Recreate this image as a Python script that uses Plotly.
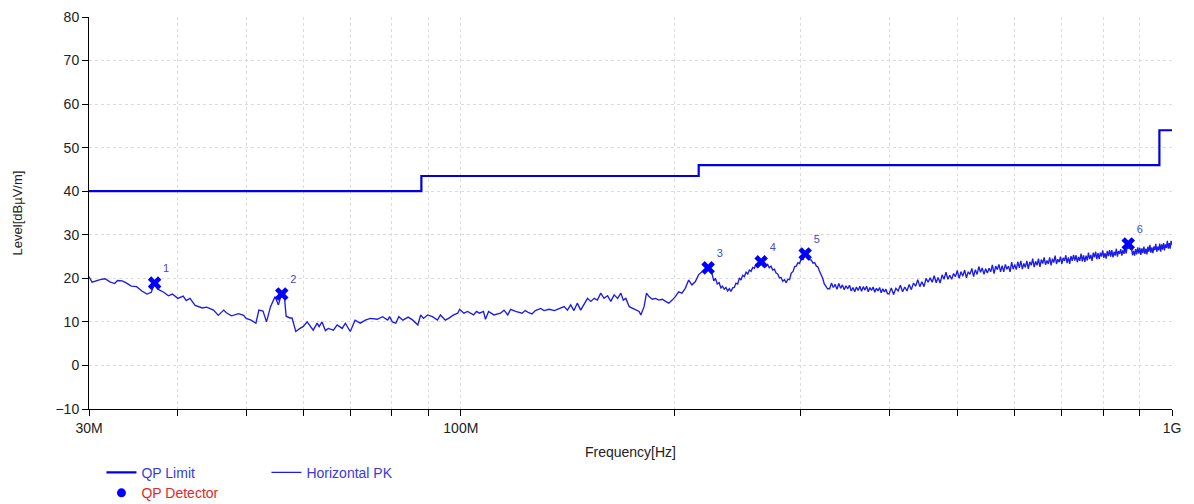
import math
import plotly.graph_objects as go

# ---------------- data ----------------
# Horizontal PK sweep (MHz, dBuV/m), in segments
seg_a_freq = [30.0, 30.3, 31.1, 31.6, 32.1, 32.6, 32.9, 33.4, 33.8, 34.4, 35.0, 35.6, 36.2, 36.7,
              37.1, 37.5, 38.2, 38.8, 39.3, 40.0, 40.7, 41.1, 41.6, 42.3, 43.3, 43.9, 44.9, 45.6,
              46.4, 46.8, 47.6, 48.7, 49.5, 49.9, 50.7, 51.5, 52.0, 52.7, 53.3, 54.0, 54.8, 55.4,
              56.0, 56.4, 56.8, 57.5, 57.9, 58.6, 59.4]
seg_a_level = [20.4, 19.1, 19.7, 19.9, 19.2, 18.8, 19.5, 19.4, 19.0, 18.2, 18.1, 17.1, 16.4, 16.8,
               18.9, 17.5, 16.8, 16.0, 16.4, 15.4, 15.9, 14.9, 15.4, 13.8, 13.2, 13.4, 12.7, 11.5,
               12.7, 12.1, 11.4, 11.9, 11.5, 10.8, 10.4, 9.7, 12.7, 12.5, 10.0, 13.5, 15.8, 13.9,
               16.6, 16.8, 11.3, 10.9, 10.9, 7.8, 8.5]

seg_b_freq = [60.0, 60.8, 61.4, 62.0, 62.8, 63.2, 63.8, 64.5, 65.1, 66.2, 67.0, 68.1, 68.8, 69.9,
              71.0, 72.2, 73.4, 74.6, 76.3, 77.6, 78.9, 79.4, 80.1, 81.0, 81.8, 82.9, 84.3, 85.6,
              87.0, 87.8, 88.6, 89.8, 91.2, 92.7, 93.6, 95.1, 96.1, 97.7, 99.0, 99.6, 101.0, 102.2,
              104.2, 105.2, 106.2, 107.6, 108.3, 109.4, 111.3, 113.7, 115.0, 116.4, 117.5, 119.4]
seg_b_level = [8.9, 10.0, 8.9, 8.1, 9.7, 8.9, 10.0, 8.0, 8.5, 8.1, 9.3, 8.5, 9.7, 7.8,
               10.4, 9.7, 10.4, 10.8, 10.6, 11.2, 10.4, 11.2, 10.0, 9.7, 11.2, 10.4, 11.1, 10.4,
               9.3, 11.6, 10.8, 11.6, 11.2, 10.4, 11.6, 10.4, 10.8, 11.6, 12.0, 12.9, 12.0, 12.4,
               11.6, 12.4, 12.0, 12.4, 10.6, 12.4, 11.6, 12.0, 12.7, 11.6, 12.9, 12.4]

seg_c_freq = [121.9, 123.2, 124.6, 125.9, 127.3, 129.5, 130.9, 133.1, 135.4, 137.7, 139.7, 141.2,
              142.7, 144.2, 145.8, 147.4, 149.0, 150.7, 152.3, 154.0, 155.6, 157.3, 159.0, 160.8,
              162.5, 164.3, 166.1, 167.9, 169.2, 170.6, 172.5, 174.4, 176.2, 178.1, 179.1, 181.0,
              182.4, 183.9, 185.9, 187.9, 189.9, 192.0, 194.0, 196.1, 198.2, 200.3, 202.4, 204.6,
              206.8, 209.1, 211.3, 213.6, 215.9, 218.3, 220.7, 222.7]
seg_c_level = [12.0, 12.6, 12.1, 11.8, 12.6, 13.1, 12.6, 12.9, 12.6, 13.1, 13.5, 12.7,
               13.9, 12.6, 14.3, 12.7, 13.9, 15.4, 14.7, 15.4, 15.0, 16.6, 15.4, 16.0,
               14.7, 16.2, 15.4, 16.6, 15.0, 15.4, 13.5, 13.1, 12.7, 12.4, 11.6, 13.5,
               16.6, 15.8, 15.2, 15.4, 15.0, 15.2, 14.7, 14.3, 15.0, 15.8, 16.9, 16.6,
               17.7, 19.6, 18.5, 19.2, 20.8, 21.5, 21.9, 22.4]

seg_d_freq = [225.6, 226.8, 228.0, 229.4, 230.8, 232.1, 233.3, 234.6, 235.9, 237.2, 238.5, 239.8,
              241.1, 242.4, 243.7, 245.1, 246.4, 247.7, 249.0, 250.4, 251.8, 253.2, 254.5, 255.9,
              257.3, 258.7, 260.1, 261.5, 263.0, 264.4, 266.0, 267.3, 268.6, 270.0, 271.5, 273.0,
              274.5, 276.0, 277.5, 279.0, 280.5, 282.0, 283.6, 285.1, 286.7, 288.3, 289.9, 291.5,
              293.2, 294.7, 296.3, 297.8, 299.4, 301.1, 302.9, 304.9, 306.6, 308.0, 309.4, 311.0,
              312.7, 314.4, 316.2, 317.8, 319.4, 321.0, 322.7, 324.4, 326.1, 327.9]
seg_d_level = [21.0, 19.4, 20.0, 18.7, 19.0, 17.8, 18.2, 17.5, 17.9, 17.1, 17.6, 17.0,
               17.8, 17.9, 18.9, 18.7, 20.1, 19.6, 20.7, 20.4, 21.4, 21.0, 21.9, 21.6,
               22.5, 22.3, 23.3, 22.8, 23.6, 23.9, 23.2, 23.5, 22.8, 23.2, 22.4, 22.8,
               21.9, 22.1, 21.2, 21.0, 20.1, 20.2, 19.3, 19.7, 19.0, 19.8, 19.7, 21.2,
               21.6, 22.7, 22.8, 23.6, 23.4, 24.5, 24.3, 25.5, 24.9, 25.1, 24.3, 24.2,
               23.5, 23.6, 22.8, 22.6, 21.6, 20.9, 20.0, 18.7, 18.2, 17.6]

seg_e_freq = [330, 332, 334, 336, 338, 340, 342, 344, 346, 348, 350, 352, 354, 356, 358, 360, 362,
              364, 366, 368, 370, 372, 374, 376, 378, 380, 382, 384, 386, 388, 390, 392, 394, 396, 398]
seg_e_level = [17.6, 18.9, 17.9, 18.6, 17.5, 18.8, 17.7, 18.5, 17.4, 18.3, 17.6, 18.4, 17.1, 17.9,
               16.9, 18.0, 17.2, 18.2, 17.0, 18.1, 17.3, 18.2, 16.9, 17.9, 17.2, 18.0, 16.8, 17.7,
               17.1, 17.9, 16.7, 17.6, 16.9, 17.5, 16.5]

seg_f_freq = [400, 403, 406, 409, 412, 415, 418, 421, 424, 427,
              430, 433, 436, 439, 442, 445, 448, 451, 454, 457,
              460, 463, 466, 469, 472, 475, 478, 481, 484, 487,
              490, 493, 496, 499, 502, 505, 508, 511, 514, 517,
              520, 523, 526, 529, 532, 535, 538, 541, 544, 547,
              550, 553, 556, 559, 562, 565, 568, 571, 574, 577,
              580, 583, 586, 589, 592, 595, 598, 601, 604, 607,
              610, 613, 616, 619, 622, 625, 628, 631, 634, 637,
              640, 643, 646, 649, 652, 655, 658, 661, 664, 667,
              670, 673, 676, 679, 682, 685, 688, 691, 694, 697,
              700, 703, 706, 709, 712, 715, 718, 721, 724, 727,
              730, 733, 736, 739, 742, 745, 748, 751, 754, 757,
              760, 763, 766, 769, 772, 775, 778, 781, 784, 787,
              790, 793, 796, 799, 802, 805, 808, 811, 814, 817,
              820, 823, 826, 829, 832, 835, 838, 841, 844, 847,
              850, 853, 856, 859, 862, 865, 868, 871, 874, 877,
              880, 883, 886, 889, 892, 895, 898, 901, 904, 907,
              910, 913, 916, 919, 922, 925, 928, 931, 934, 937,
              940, 943, 946, 949, 952, 955, 958, 961, 964, 967,
              970, 973, 976, 979, 982, 985, 988, 991, 994, 997, 1000]
seg_f_level = [16.4, 17.8, 16.3, 17.7, 17.1, 18.4, 16.9, 18.0, 17.1, 18.6,
               17.4, 18.9, 18.2, 19.7, 18.1, 19.2, 18.1, 20.0, 19.1, 20.1,
               19.1, 20.6, 19.0, 20.2, 18.9, 20.8, 19.8, 21.4, 19.8, 20.7,
               19.8, 21.1, 20.4, 21.8, 20.0, 21.5, 20.5, 21.9, 20.1, 21.5,
               20.9, 22.3, 20.4, 22.0, 20.9, 22.7, 21.4, 22.4, 20.9, 22.2,
               21.2, 22.3, 21.5, 23.1, 21.1, 22.8, 22.0, 23.2, 21.5, 22.9,
               21.5, 23.2, 22.1, 22.8, 21.5, 23.7, 22.1, 23.2, 22.0, 23.8,
               22.4, 24.0, 22.1, 23.4, 22.5, 24.0, 22.2, 23.8, 23.0, 24.5,
               22.6, 23.9, 23.0, 24.5, 22.6, 24.3, 23.4, 24.8, 23.1, 24.1,
               23.3, 24.8, 23.0, 24.5, 23.6, 25.2, 23.3, 24.4, 23.7, 25.0,
               23.3, 24.7, 24.0, 25.3, 23.5, 24.8, 23.3, 25.1, 24.0, 25.4,
               24.1, 25.3, 23.7, 24.9, 24.0, 25.7, 23.9, 25.3, 23.8, 25.2,
               24.1, 25.9, 24.4, 25.4, 24.0, 25.9, 24.8, 26.1, 24.4, 25.8,
               24.4, 25.9, 25.0, 26.4, 24.7, 25.8, 24.5, 26.3, 25.1, 26.5,
               25.0, 26.5, 24.8, 26.1, 25.2, 26.8, 25.0, 26.3, 25.6, 26.7,
               25.2, 26.5, 25.6, 27.0, 25.7, 27.2, 26.8, 27.4, 26.6, 27.0,
               25.3, 26.3, 25.2, 26.7, 25.5, 27.1, 25.7, 27.0, 25.4, 26.9,
               25.8, 27.3, 25.6, 26.8, 25.5, 27.3, 26.1, 27.7, 25.9, 27.1,
               25.8, 27.3, 26.5, 27.9, 26.1, 27.3, 26.4, 28.0, 26.1, 27.8,
               26.6, 28.1, 26.4, 27.8, 27.0, 28.6, 26.8, 28.1, 26.8, 28.6, 27.7]

# QP limit (FCC class B style steps)
limit_freq_mhz = [30, 88, 216, 960, 1000]
limit_level = [40, 43.5, 46, 54, 54]

# QP detector peaks
peak_freq_mhz = [37.1, 56.0, 222.7, 264.4, 304.9, 867.9]
peak_level = [18.9, 16.4, 22.4, 23.8, 25.6, 27.9]
peak_labels = ["1", "2", "3", "4", "5", "6"]

# axis ticks
x_tick_vals = [30, 40, 50, 60, 70, 80, 90, 100, 200, 300, 400, 500, 600, 700, 800, 900, 1000]
x_tick_text = ["30M", "", "", "", "", "", "", "100M", "", "", "", "", "", "", "", "", "1G"]
y_tick_vals = [-10, 0, 10, 20, 30, 40, 50, 60, 70, 80]

trace_freq = seg_a_freq + seg_b_freq + seg_c_freq + seg_d_freq + seg_e_freq + seg_f_freq
trace_level = seg_a_level + seg_b_level + seg_c_level + seg_d_level + seg_e_level + seg_f_level

# ---------------- figure ----------------
FONT = "Arial, 'Liberation Sans', sans-serif"
fig = go.Figure()

fig.add_trace(go.Scatter(
    x=limit_freq_mhz, y=limit_level, mode="lines", name="QP Limit",
    line=dict(color="#0000e6", width=2.2, shape="hv"), legend="legend",
))
fig.add_trace(go.Scatter(
    x=trace_freq, y=trace_level, mode="lines", name="Horizontal PK",
    line=dict(color="#1c1ce8", width=1.35), legend="legend",
))
fig.add_trace(go.Scatter(
    x=peak_freq_mhz, y=peak_level, mode="markers+text", showlegend=False,
    marker=dict(symbol="x", size=12, color="#0000ff", line=dict(width=0)),
    text=peak_labels, textposition="top right",
    textfont=dict(family=FONT, size=11, color="#4848d0"),
))
# legend entry for the detector (drawn as a dot in the legend)
fig.add_trace(go.Scatter(
    x=[None], y=[None], mode="markers",
    name="<span style='color:#e02828'>QP Detector</span>",
    marker=dict(symbol="circle", size=9, color="#0000ff"), legend="legend2",
))

axis_common = dict(
    showline=True, linecolor="#000000", linewidth=1,
    ticks="outside", tickcolor="#000000", ticklen=6,
    showgrid=True, gridcolor="#dcdcdc", griddash="dot", gridwidth=1,
    zeroline=False, tickfont=dict(family=FONT, size=14, color="#222222"),
)

fig.update_layout(
    width=1194, height=504,
    margin=dict(l=89, r=22, t=17, b=95, autoexpand=False),
    paper_bgcolor="white", plot_bgcolor="white",
    font=dict(family=FONT, size=14, color="#222222"),
    xaxis=dict(
        type="log", range=[math.log10(30), math.log10(1000)],
        tickvals=x_tick_vals, ticktext=x_tick_text,
        title=dict(text="Frequency[Hz]", font=dict(size=14, color="#222222"), standoff=12),
        **axis_common,
    ),
    yaxis=dict(
        range=[-10, 80], tickvals=y_tick_vals,
        title=dict(text="Level[dBµV/m]", font=dict(size=13, color="#222222"), standoff=29),
        **axis_common,
    ),
    legend=dict(
        orientation="h", x=0.0115, y=-0.122, xanchor="left", yanchor="top",
        font=dict(family=FONT, size=14, color="#3a3ad8"),
        bgcolor="rgba(0,0,0,0)", entrywidth=120, entrywidthmode="pixels",
        itemwidth=30,
    ),
    legend2=dict(
        orientation="h", x=0.0115, y=-0.174, xanchor="left", yanchor="top",
        font=dict(family=FONT, size=14, color="#e02828"),
        bgcolor="rgba(0,0,0,0)", itemwidth=30,
    ),
    showlegend=True,
)

fig.write_html(
    "out.html",
    config={"displayModeBar": False},
    post_script="document.body.style.margin='0';document.body.style.overflow='hidden';",
)
